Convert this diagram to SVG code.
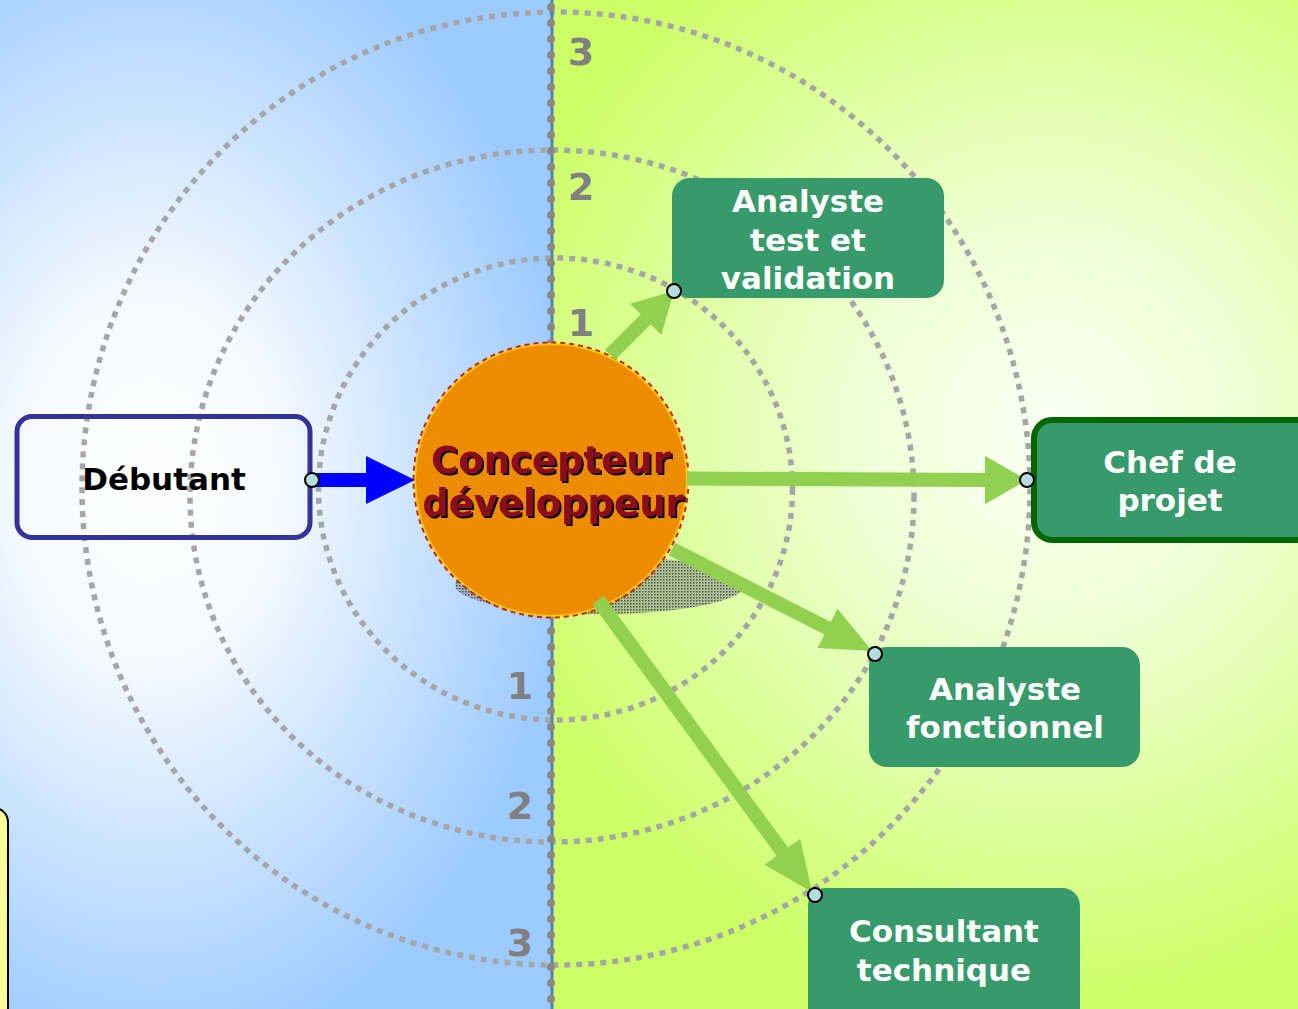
<svg xmlns="http://www.w3.org/2000/svg" width="1298" height="1009" viewBox="0 0 1298 1009">
<style>
.ring{fill:none;stroke:#a6a6a6;stroke-width:5.5;stroke-dasharray:6 6}
.num{font-family:"DejaVu Sans",sans-serif;font-weight:bold;font-size:38px;fill:#808080;text-anchor:middle}
.box{fill:#379a6a}
.lbl{font-family:"DejaVu Sans",sans-serif;font-weight:bold;font-size:31px;fill:#ffffff;text-anchor:middle}
.shaft{stroke:#92d050;stroke-width:14;fill:none}
.head{fill:#92d050}
.dot{fill:#b4dde0;stroke:#000;stroke-width:2}
</style>
<defs>
<radialGradient id="gl" gradientUnits="userSpaceOnUse" cx="150" cy="480" r="420" gradientTransform="translate(150 480) scale(1 1.4) translate(-150 -480)">
<stop offset="0" stop-color="#ffffff"/>
<stop offset="0.3" stop-color="#f6faff"/>
<stop offset="1" stop-color="#9dcbff"/>
</radialGradient>
<radialGradient id="gr" gradientUnits="userSpaceOnUse" cx="1050" cy="430" r="580">
<stop offset="0" stop-color="#fbfff4"/>
<stop offset="0.35" stop-color="#eeffd4"/>
<stop offset="1" stop-color="#ccff66"/>
</radialGradient>
<pattern id="hatch" width="3" height="3" patternUnits="userSpaceOnUse">
<rect width="3" height="3" fill="#8a9494" fill-opacity="0.55"/>
<rect width="1.5" height="1.5" fill="#222" fill-opacity="0.7"/>
</pattern>
<filter id="ts" x="-10%" y="-10%" width="120%" height="130%">
<feOffset dx="2" dy="2" in="SourceAlpha" result="o"/>
<feMerge><feMergeNode in="o"/><feMergeNode in="SourceGraphic"/></feMerge>
</filter>
</defs>

<g id="background">
<rect x="0" y="0" width="552" height="1009" fill="url(#gl)"/>
<rect x="552" y="0" width="746" height="1009" fill="url(#gr)"/>
</g>

<g id="rings">
<ellipse class="ring" cx="555.5" cy="489" rx="237" ry="231"/>
<ellipse class="ring" cx="552" cy="496" rx="362" ry="346"/>
<ellipse class="ring" cx="556" cy="488.5" rx="474" ry="476.5"/>
</g>

<g id="axis">
<line x1="552" y1="0" x2="552" y2="1009" stroke="#5a7fa8" stroke-width="3"/>
<line x1="551" y1="7" x2="551" y2="1009" stroke="#888888" stroke-width="8" stroke-linecap="round" stroke-dasharray="0 16"/>
</g>

<g id="numbers">
<text class="num" x="581" y="65">3</text>
<text class="num" x="581" y="200">2</text>
<text class="num" x="581" y="336">1</text>
<text class="num" x="520" y="699">1</text>
<text class="num" x="520" y="819">2</text>
<text class="num" x="520" y="956">3</text>
</g>

<g id="note">
<rect x="-20" y="808" width="28" height="230" rx="14" fill="#ffff99" stroke="#000" stroke-width="2"/>
</g>

<g id="concepteur">
<ellipse cx="600" cy="585" rx="145" ry="29" fill="url(#hatch)"/>
<circle cx="551" cy="480" r="136" fill="#ee8c00" stroke="#ffcc00" stroke-width="2"/>
<circle cx="551" cy="480" r="137.5" fill="none" stroke="#cc2222" stroke-width="2" stroke-dasharray="5 4"/>
<g filter="url(#ts)" font-family="DejaVu Sans, sans-serif" font-weight="bold" font-size="37" fill="#8b0f1c" text-anchor="middle">
<text x="551" y="473">Concepteur</text>
<text x="553" y="516">développeur</text>
</g>
</g>

<g id="debutant">
<rect x="17" y="416.5" width="293" height="121" rx="15" fill="none" stroke="#333399" stroke-width="5"/>
<text x="164" y="490" font-family="DejaVu Sans, sans-serif" font-weight="bold" font-size="31" fill="#000" text-anchor="middle">Débutant</text>
</g>

<g id="analyste-test">
<rect class="box" x="672" y="178" width="272" height="120" rx="18"/>
<text class="lbl" x="808" y="212">Analyste</text>
<text class="lbl" x="808" y="251">test et</text>
<text class="lbl" x="808" y="289">validation</text>
</g>

<g id="chef-projet">
<rect class="box" x="1034" y="420" width="290" height="120" rx="18" stroke="#006600" stroke-width="6"/>
<text class="lbl" x="1170" y="473">Chef de</text>
<text class="lbl" x="1170" y="511">projet</text>
</g>

<g id="analyste-fonctionnel">
<rect class="box" x="869" y="647" width="271" height="120" rx="18"/>
<text class="lbl" x="1005" y="700">Analyste</text>
<text class="lbl" x="1005" y="738">fonctionnel</text>
</g>

<g id="consultant">
<rect class="box" x="808" y="888" width="272" height="140" rx="18"/>
<text class="lbl" x="944" y="942">Consultant</text>
<text class="lbl" x="944" y="981">technique</text>
</g>

<g id="connectors">
<line x1="312" y1="480" x2="368" y2="480" stroke="#0000ff" stroke-width="14"/>
<polygon points="366,456 415,480 366,504" fill="#0000ff"/>

<line class="shaft" x1="610" y1="355" x2="648" y2="317"/>
<polygon class="head" points="661.3,334.9 674,291 630.1,303.7"/>

<line class="shaft" x1="687" y1="478.5" x2="987" y2="480"/>
<polygon class="head" points="985,456 1027,480 985,504"/>

<line class="shaft" x1="672" y1="549" x2="830" y2="629.5"/>
<polygon class="head" points="817.5,647.9 872,651 837.5,608.7"/>

<line class="shaft" x1="598" y1="600" x2="784" y2="854"/>
<polygon class="head" points="764.6,864.7 812,892 800.2,838.7"/>

<circle class="dot" cx="312" cy="480" r="7"/>
<circle class="dot" cx="674" cy="291" r="7"/>
<circle class="dot" cx="1027" cy="480" r="7"/>
<circle class="dot" cx="875" cy="654" r="7"/>
<circle class="dot" cx="815" cy="895" r="7"/>
</g>
</svg>
